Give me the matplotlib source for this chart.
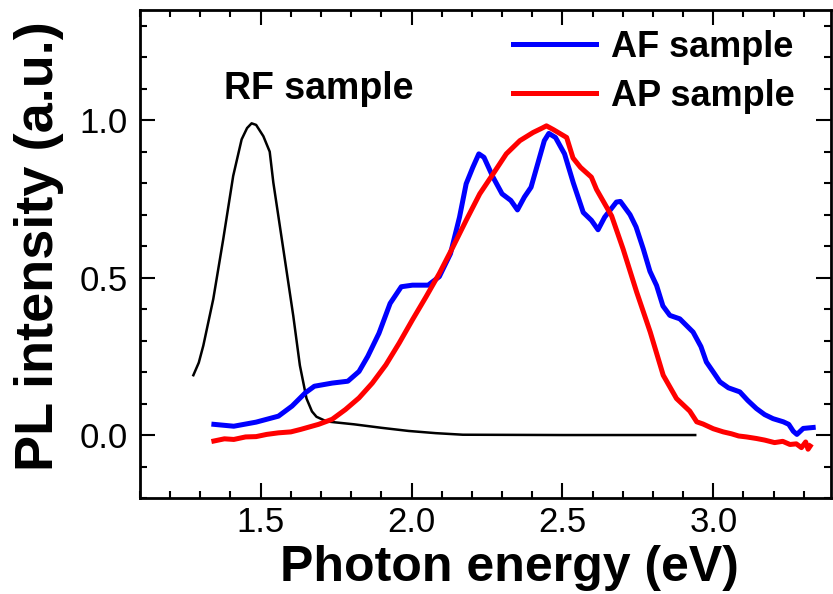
import matplotlib
matplotlib.use("Agg")
import matplotlib.pyplot as plt
from matplotlib.ticker import MultipleLocator

plt.rcParams['font.family'] = ['Liberation Sans', 'DejaVu Sans']

# RF sample (black)
rf_x = [1.277, 1.295, 1.31, 1.343, 1.376, 1.409, 1.437, 1.455, 1.47, 1.485,
        1.509, 1.53, 1.542, 1.575, 1.608, 1.63, 1.652, 1.67, 1.685, 1.71,
        1.73, 1.81, 1.90, 1.99, 2.08, 2.17, 2.5, 2.94]
rf_y = [0.19, 0.23, 0.284, 0.432, 0.622, 0.823, 0.939, 0.975, 0.99, 0.985,
        0.949, 0.9, 0.802, 0.591, 0.379, 0.221, 0.116, 0.075, 0.058, 0.047,
        0.042, 0.034, 0.023, 0.013, 0.006, 0.001, 0.0, 0.0]

# AF sample (blue)
af_x = [1.345, 1.411, 1.485, 1.559, 1.604, 1.648, 1.678, 1.737, 1.789, 1.826,
        1.855, 1.892, 1.929, 1.966, 2.003, 2.055, 2.092, 2.129, 2.159, 2.181,
        2.203, 2.223, 2.240, 2.270, 2.300, 2.329, 2.351, 2.374, 2.396, 2.418,
        2.440, 2.455, 2.477, 2.507, 2.536, 2.569, 2.596, 2.618, 2.640, 2.679,
        2.692, 2.724, 2.744, 2.768, 2.790, 2.812, 2.833, 2.856, 2.889, 2.933,
        2.959, 2.977, 3.000, 3.022, 3.050, 3.088, 3.114, 3.143, 3.170, 3.198,
        3.232, 3.250, 3.265, 3.277, 3.298, 3.331]
af_y = [0.034, 0.028, 0.041, 0.060, 0.092, 0.134, 0.155, 0.165, 0.171, 0.202,
        0.250, 0.323, 0.418, 0.471, 0.476, 0.476, 0.503, 0.576, 0.692, 0.798,
        0.850, 0.893, 0.882, 0.819, 0.766, 0.745, 0.715, 0.756, 0.787, 0.861,
        0.935, 0.958, 0.945, 0.893, 0.801, 0.707, 0.682, 0.652, 0.692, 0.740,
        0.742, 0.700, 0.661, 0.591, 0.520, 0.475, 0.410, 0.380, 0.369, 0.327,
        0.281, 0.232, 0.200, 0.169, 0.150, 0.137, 0.110, 0.084, 0.065, 0.052,
        0.042, 0.034, 0.012, 0.002, 0.021, 0.024]

# AP sample (red)
ap_x = [1.345, 1.38, 1.411, 1.45, 1.485, 1.52, 1.559, 1.60, 1.633, 1.692,
        1.737, 1.781, 1.826, 1.870, 1.915, 1.959, 2.003, 2.048, 2.092, 2.137,
        2.181, 2.226, 2.270, 2.314, 2.359, 2.403, 2.433, 2.447, 2.470, 2.514,
        2.535, 2.560, 2.596, 2.613, 2.663, 2.701, 2.746, 2.791, 2.834, 2.878,
        2.922, 2.945, 2.966, 3.000, 3.033, 3.060, 3.084, 3.110, 3.143, 3.170,
        3.203, 3.230, 3.254, 3.275, 3.292, 3.306, 3.314, 3.321]
ap_y = [-0.019, -0.012, -0.014, -0.006, -0.005, 0.002, 0.007, 0.010, 0.018, 0.034,
        0.050, 0.081, 0.118, 0.165, 0.223, 0.292, 0.366, 0.439, 0.513, 0.597,
        0.682, 0.766, 0.829, 0.893, 0.935, 0.961, 0.975, 0.982, 0.970, 0.945,
        0.880, 0.850, 0.819, 0.780, 0.696, 0.591, 0.454, 0.327, 0.190, 0.116,
        0.076, 0.042, 0.035, 0.020, 0.010, 0.004, -0.003, -0.006, -0.011, -0.016,
        -0.024, -0.020, -0.030, -0.028, -0.040, -0.022, -0.045, -0.035]

fig = plt.figure(figsize=(8.33, 5.94), dpi=100)
ax = fig.add_axes([0.168, 0.1616, 0.8296, 0.8216])

ax.plot(rf_x, rf_y, color='black', lw=1.8)
ax.plot(af_x, af_y, color='blue', lw=3.6, label='AF sample')
ax.plot(ap_x, ap_y, color='red', lw=3.6, label='AP sample')

ax.text(1.38, 1.10, 'RF sample', fontsize=27, fontweight='bold', ha='left', va='center')

ax.set_xlim(1.1, 3.39)
ax.set_ylim(-0.2, 1.35)
ax.xaxis.set_minor_locator(MultipleLocator(0.1))
ax.yaxis.set_minor_locator(MultipleLocator(0.1))
ax.set_yticks([0.0, 0.5, 1.0])
ax.set_yticklabels(['0.0', '0.5', '1.0'])
ax.set_xticks([1.5, 2.0, 2.5, 3.0])
ax.set_xticklabels(['1.5', '2.0', '2.5', '3.0'])

ax.tick_params(which='both', direction='in', top=True, right=True, width=1.5)
ax.tick_params(which='major', length=11)
ax.tick_params(which='minor', length=5)
ax.tick_params(axis='x', labelsize=25, pad=6)
ax.tick_params(axis='y', labelsize=25, pad=9)
for s in ax.spines.values():
    s.set_linewidth(2)

# axis titles placed as figure text
fig.text(0.612, 0.044, 'Photon energy (eV)', fontsize=36, fontweight='bold',
         ha='center', va='center')
fig.text(0.047, 0.586, 'PL intensity (a.u.)', fontsize=39, fontweight='bold',
         ha='center', va='center', rotation=90)

ax.legend(loc='upper left', bbox_to_anchor=(0.54, 0.96), frameon=False,
          prop={'weight': 'bold', 'size': 26}, handlelength=2.3,
          handletextpad=0.4, labelspacing=0.4, borderpad=0, borderaxespad=0)

fig.savefig('out.png', dpi=100)
